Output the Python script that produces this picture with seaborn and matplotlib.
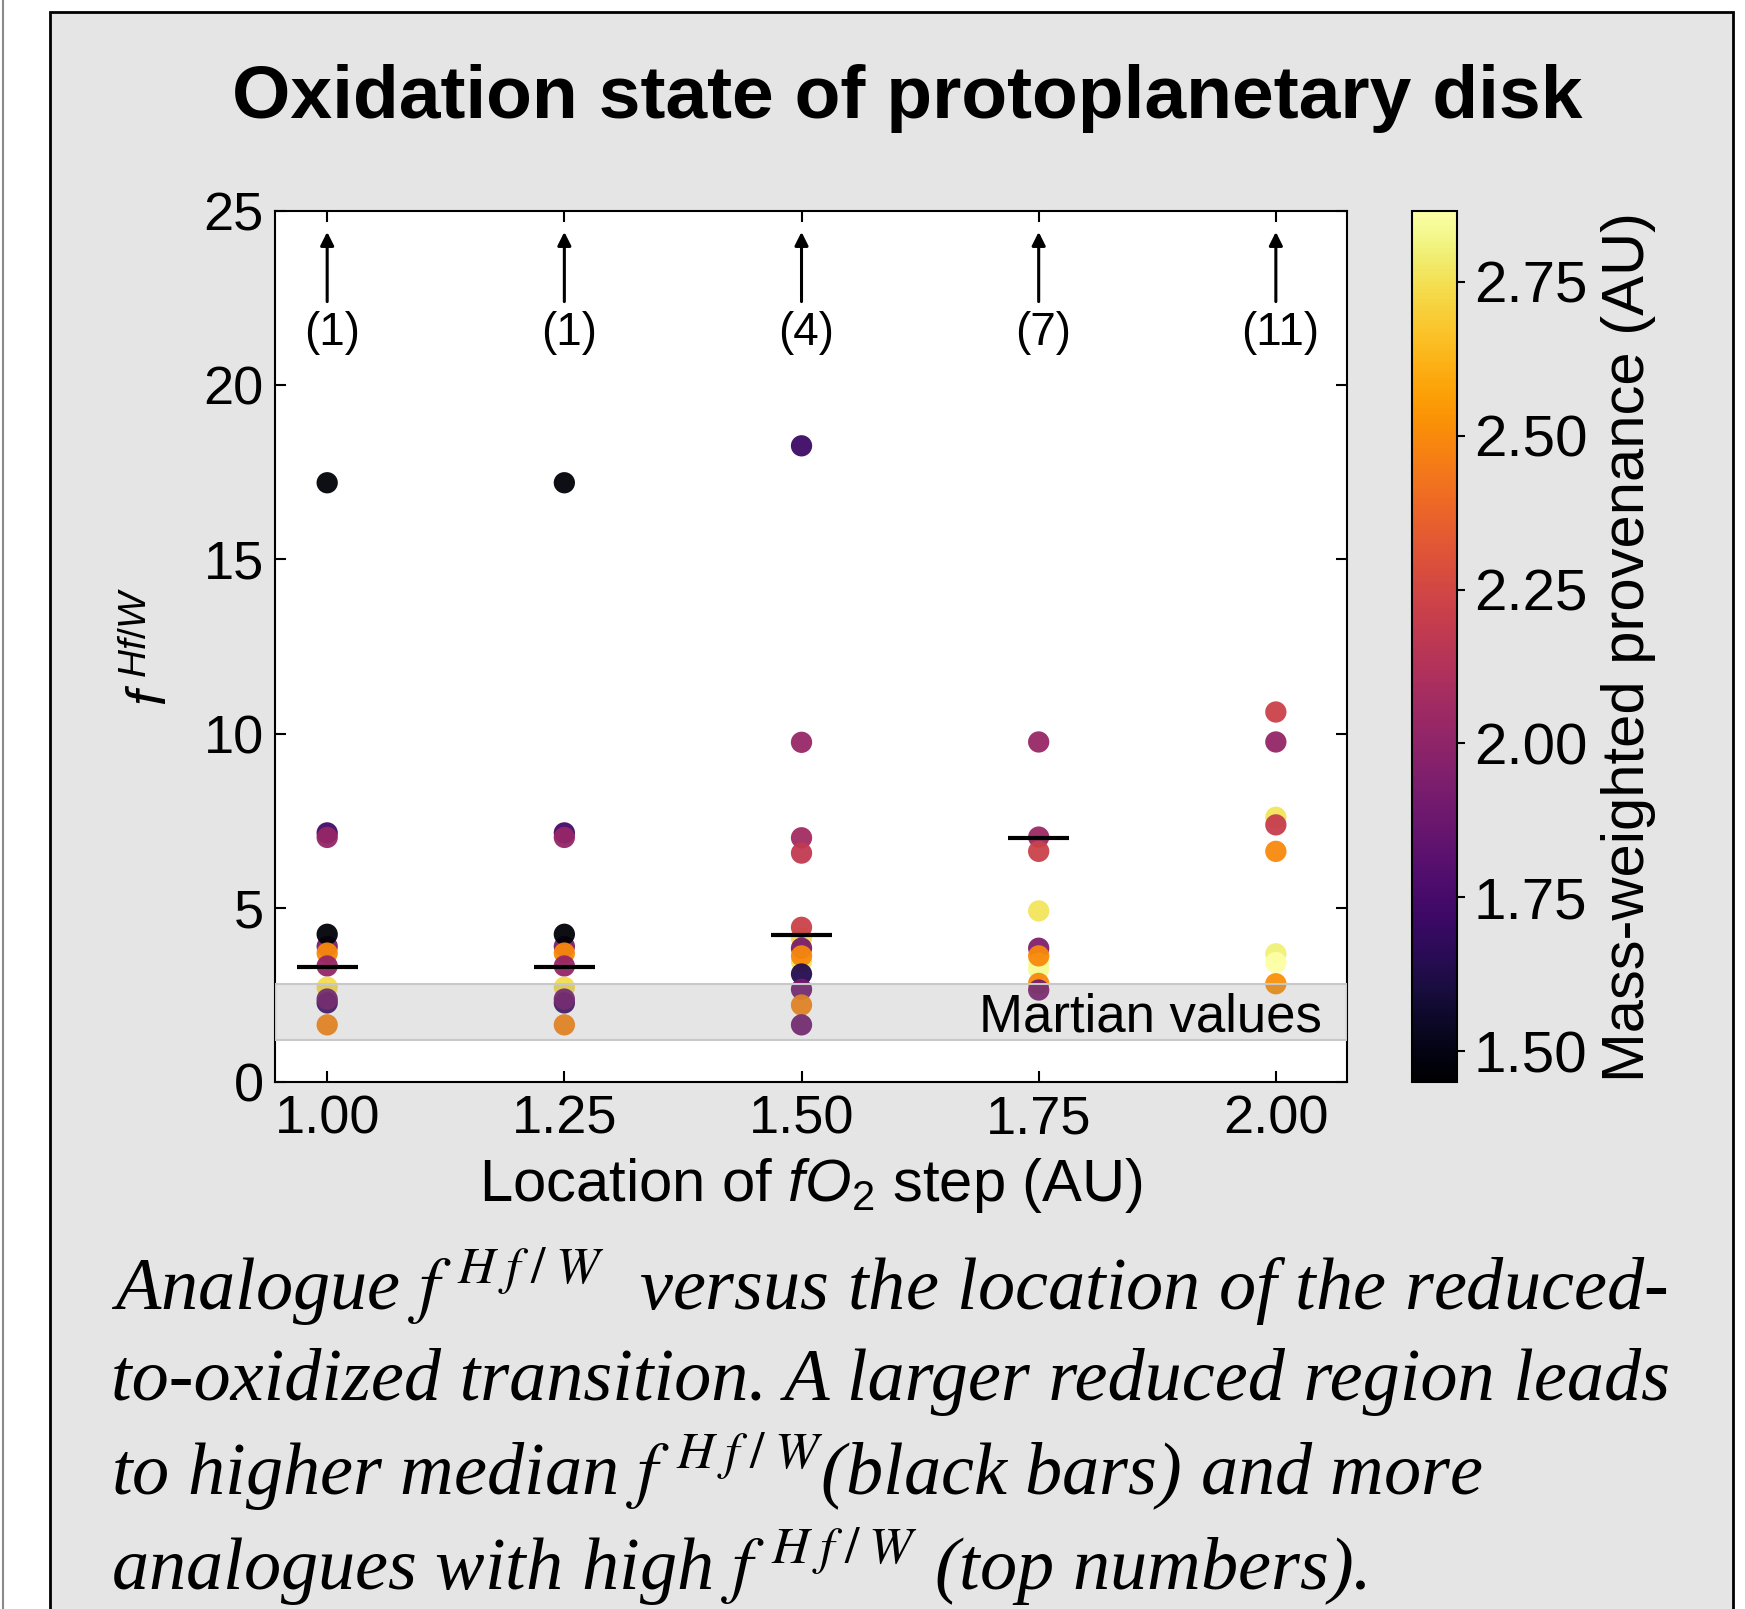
import numpy as np
import pandas as pd
import matplotlib
matplotlib.use("Agg")
import matplotlib.pyplot as plt
import seaborn as sns
from matplotlib.colors import Normalize
from matplotlib.cm import ScalarMappable
from matplotlib.patches import Rectangle
from matplotlib.lines import Line2D

# --- data ---------------------------------------------------------------
step_loc = ([1.00] * 11 + [1.25] * 11 + [1.50] * 13 + [1.75] * 10 + [2.00] * 8)
f_hfw = [
    # 1.00 AU
    17.2, 7.15, 7.02, 3.89, 4.24, 3.70, 3.33, 2.72, 2.27, 2.38, 1.64,
    # 1.25 AU
    17.2, 7.15, 7.02, 3.89, 4.24, 3.70, 3.33, 2.72, 2.27, 2.38, 1.64,
    # 1.50 AU
    18.26, 9.75, 7.01, 6.57, 4.13, 4.44, 3.46, 3.84, 3.62, 3.10, 2.66, 2.21, 1.64,
    # 1.75 AU
    9.76, 7.03, 6.62, 4.91, 3.84, 3.41, 3.24, 3.62, 2.83, 2.64,
    # 2.00 AU
    10.62, 9.76, 7.60, 7.38, 6.62, 3.68, 3.43, 2.82,
]
provenance = [
    1.47, 1.74, 2.02, 1.92, 1.47, 2.50, 2.02, 2.74, 1.70, 1.90, 2.48,
    1.47, 1.74, 2.02, 1.92, 1.47, 2.50, 2.02, 2.74, 1.70, 1.90, 2.48,
    1.72, 2.03, 2.07, 2.18, 2.75, 2.22, 2.76, 1.93, 2.50, 1.64, 1.90, 2.48, 1.90,
    2.03, 2.05, 2.22, 2.76, 1.95, 2.85, 2.84, 2.50, 2.50, 1.92,
    2.22, 2.02, 2.76, 2.20, 2.50, 2.80, 2.86, 2.52,
]
median_loc = [1.00, 1.25, 1.50, 1.75]
median_val = [3.3, 3.3, 4.22, 7.0]
arrow_loc = [1.00, 1.25, 1.50, 1.75, 2.00]
n_above = [1, 1, 4, 7, 11]
xticks = [1.00, 1.25, 1.50, 1.75, 2.00]
yticks = [0, 5, 10, 15, 20, 25]
cbar_ticks = [1.50, 1.75, 2.00, 2.25, 2.50, 2.75]
mars_lo, mars_hi = 1.2, 2.8

sup = r"$f^{\;H\;f\;/\;W}$"
caption = [
    f"Analogue {sup}  versus the location of the reduced-",
    "to-oxidized transition. A larger reduced region leads",
    f"to higher median {sup}(black bars) and more",
    f"analogues with high {sup} (top numbers).",
]

df = pd.DataFrame({"loc": step_loc, "fhfw": f_hfw, "prov": provenance})

# --- style ---------------------------------------------------------------
sns.set_theme(style="ticks")
plt.rcParams["font.family"] = ["Liberation Sans", "DejaVu Sans"]
plt.rcParams["mathtext.fontset"] = "custom"
plt.rcParams["mathtext.it"] = "Liberation Sans:italic"
plt.rcParams["mathtext.rm"] = "Liberation Sans"
for key in ["text.color", "axes.labelcolor", "xtick.color", "ytick.color",
            "axes.edgecolor"]:
    plt.rcParams[key] = "black"

W, H = 1745, 1609
fig = plt.figure(figsize=(W / 100, H / 100), dpi=100, facecolor="white")

# grey poster panel
fig.add_artist(Rectangle((50 / W, -0.02), (1733 - 50) / W, 1 - 12 / H + 0.02,
                         transform=fig.transFigure, facecolor="#e5e5e5",
                         edgecolor="black", lw=2, zorder=0))
fig.add_artist(Line2D([2.5 / W, 2.5 / W], [0, 1], transform=fig.transFigure,
                      color="#8a8a8a", lw=1.5))

ax = fig.add_axes([275 / W, 527 / H, 1072 / W, 871 / H])
cax = fig.add_axes([1412 / W, 527 / H, 45 / W, 871 / H])

norm = Normalize(vmin=1.45, vmax=2.865)
sns.scatterplot(data=df, x="loc", y="fhfw", hue="prov", palette="inferno",
                hue_norm=norm, s=235, linewidth=0, alpha=0.95, legend=False,
                ax=ax, zorder=3)

ax.axhspan(mars_lo, mars_hi, facecolor=(0.5, 0.5, 0.5, 0.2),
           edgecolor="#c8c8c8", lw=1.5, zorder=4)
ax.text(2.049, 1.85, "Martian values", ha="right", va="center",
        fontsize=38, zorder=6)

ax.hlines(median_val, [m - 0.032 for m in median_loc],
          [m + 0.032 for m in median_loc], color="black", lw=3, zorder=5)

for x, n in zip(arrow_loc, n_above):
    ax.annotate("", xy=(x, 24.4), xytext=(x, 22.4),
                arrowprops=dict(arrowstyle="-|>", color="black", lw=2.2,
                                mutation_scale=20, shrinkA=0, shrinkB=0))
    ax.text(x + 0.005, 21.5, f"({n})", ha="center", va="center", fontsize=33)

ax.set_xlim(0.945, 2.075)
ax.set_ylim(0, 25)
ax.set_xticks(xticks)
ax.set_xticklabels([f"{t:.2f}" for t in xticks])
ax.set_yticks(yticks)
ax.tick_params(direction="in", top=True, right=True, length=8, width=1.5,
               labelsize=39, colors="black")
ax.tick_params(axis="x", pad=9)
ax.tick_params(axis="y", pad=8)
for sp in ax.spines.values():
    sp.set_linewidth(1.5)
    sp.set_color("black")

ax.set_xlabel(r"Location of $fO_2$ step (AU)", fontsize=43, labelpad=8)
ax.set_ylabel(r"$f^{\;Hf/W}$", fontsize=40)
ax.yaxis.set_label_coords(-0.09, 0.5)

cb = fig.colorbar(ScalarMappable(norm=norm, cmap="inferno"), cax=cax)
cb.set_ticks(cbar_ticks)
cb.set_ticklabels([f"{t:.2f}" for t in cbar_ticks])
cb.ax.tick_params(labelsize=42, length=6, width=1.5, pad=6, colors="black")
cb.outline.set_linewidth(1.5)
cb.set_label("Mass-weighted provenance (AU)", fontsize=43)
cb.ax.yaxis.set_label_coords(4.2, 0.5)

fig.text(0.52, 0.939, "Oxidation state of protoplanetary disk",
         ha="center", va="center", fontsize=54, fontweight="bold")

baselines = [1310, 1400, 1495, 1590]
for line, yb in zip(caption, baselines):
    fig.text(111 / W, 1 - yb / H, line, ha="left", va="baseline",
             fontsize=53.5, family="Liberation Serif", style="italic",
             math_fontfamily="stix")

fig.savefig("out.png", dpi=100, facecolor="white")
